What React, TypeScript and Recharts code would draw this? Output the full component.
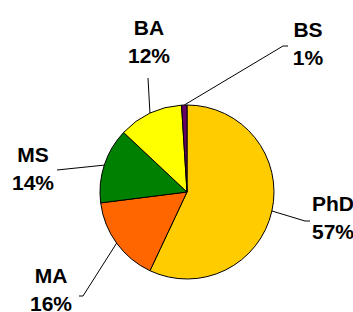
import { PieChart, Pie, Cell } from 'recharts';

const degrees = ['PhD', 'MA', 'MS', 'BA', 'BS'];
const shares = [57, 16, 14, 12, 1];
const COLORS = ['#FFCC00', '#FF6600', '#008000', '#FFFF00', '#660066'];

const data = degrees.map((name, i) => ({ name, value: shares[i] }));

// label block (baseline of first line) and leader line end, relative to pie centre
const LABEL_LAYOUT = [
    { tx: 146, ty: 19, ex: 118, ey: 29, hx: 123 },
    { tx: -136, ty: 91, ex: -104, ey: 104, hx: -108 },
    { tx: -154, ty: -30, ex: -130, ey: -22, hx: -130 },
    { tx: -38, ty: -157, ex: -39, ey: -114, hx: -39 },
    { tx: 121, ty: -155, ex: 96, ey: -146, hx: 101 },
];

const RADIAN = Math.PI / 180;
const FONT = "'Liberation Sans', Arial, sans-serif";

const renderLabel = (props: any) => {
    const { cx, cy, midAngle, outerRadius, index } = props;
    const l = LABEL_LAYOUT[index];
    const sx = cx + outerRadius * Math.cos(-midAngle * RADIAN);
    const sy = cy + outerRadius * Math.sin(-midAngle * RADIAN);
    const ex = cx + l.ex;
    const ey = cy + l.ey;
    const total = shares.reduce((a, b) => a + b, 0);
    const pct = Math.round((shares[index] / total) * 100);
    return (
        <g>
            <polyline
                points={`${sx},${sy} ${ex},${ey} ${cx + l.hx},${ey}`}
                fill="none"
                stroke="#000"
                strokeWidth={1}
            />
            <text
                x={cx + l.tx}
                y={cy + l.ty}
                textAnchor="middle"
                fontFamily={FONT}
                fontWeight="bold"
                fontSize={21}
                fill="#000"
            >
                {degrees[index]}
            </text>
            <text
                x={cx + l.tx}
                y={cy + l.ty + 28}
                textAnchor="middle"
                fontFamily={FONT}
                fontWeight="bold"
                fontSize={21}
                fill="#000"
            >
                {pct}%
            </text>
        </g>
    );
};

export default function App() {
    return (
        <div style={{ position: 'absolute', left: 0, top: 0, background: '#fff' }}>
            <PieChart width={353} height={312}>
                <Pie
                    data={data}
                    dataKey="value"
                    nameKey="name"
                    cx={182}
                    cy={187}
                    outerRadius={87}
                    startAngle={90}
                    endAngle={-270}
                    stroke="#000"
                    strokeWidth={1}
                    label={renderLabel}
                    labelLine={false}
                    isAnimationActive={false}
                >
                    {data.map((item, index) => (
                        <Cell key={`cell-${index}`} fill={COLORS[index % COLORS.length]} />
                    ))}
                </Pie>
            </PieChart>
        </div>
    );
}
